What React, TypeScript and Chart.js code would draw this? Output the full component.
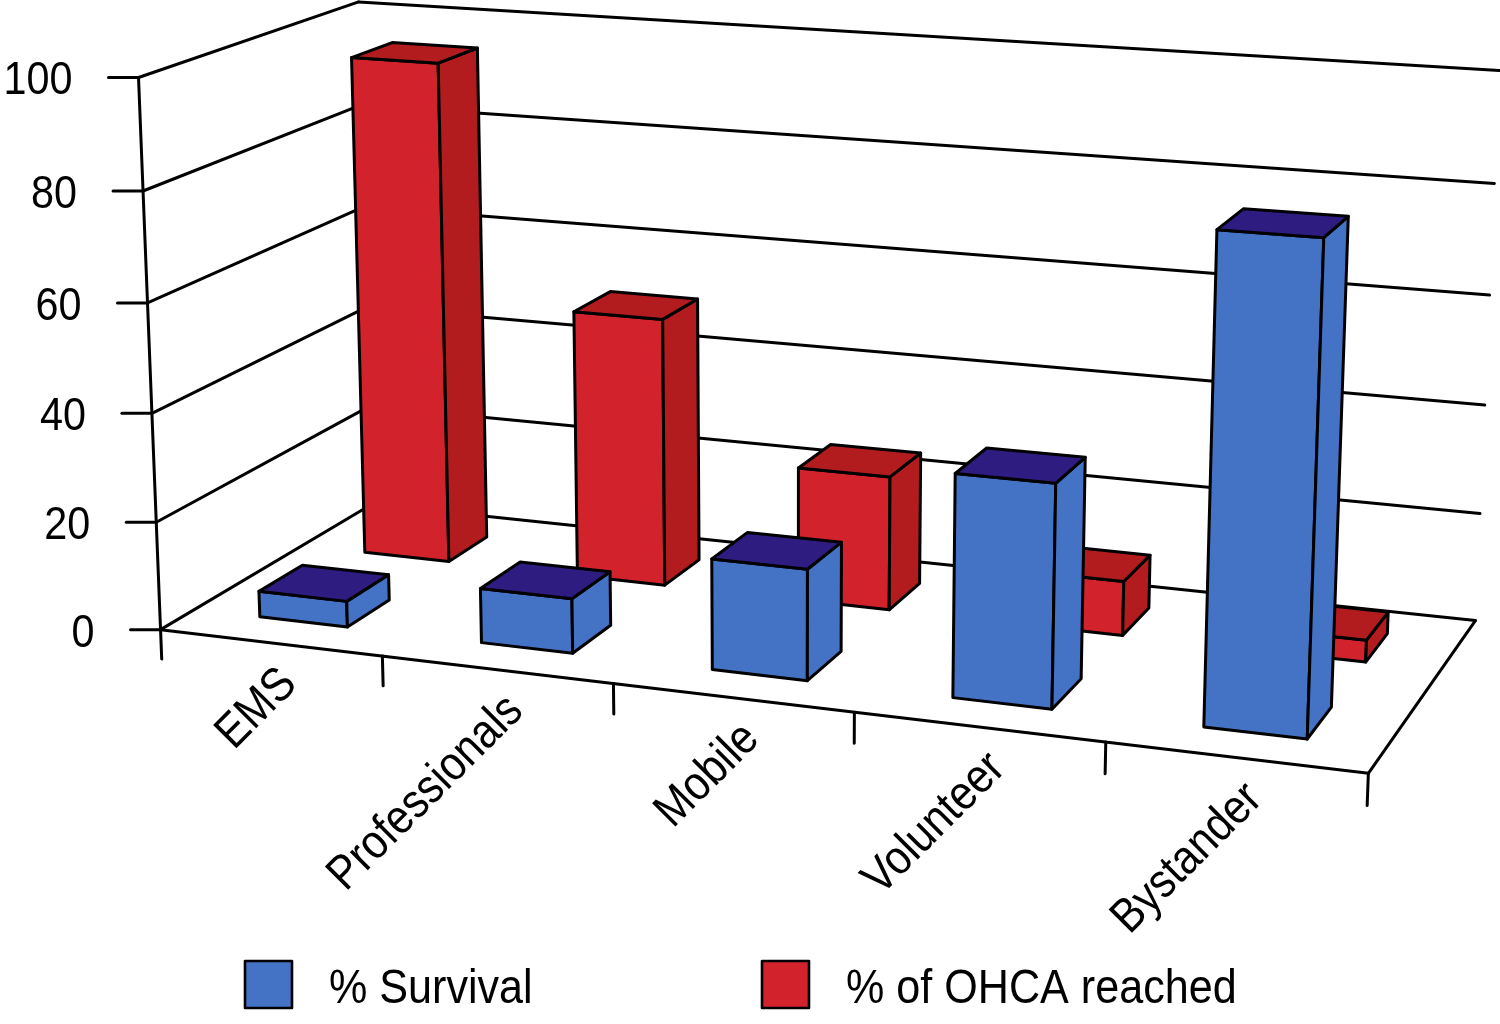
import React, { useEffect, useRef } from "react";
import { Chart, registerables } from "chart.js";

Chart.register(...registerables);

const categories = ["EMS", "Professionals", "Mobile", "Volunteer", "Bystander"];
const survival = [4.8, 10, 20, 39.5, 84.5];
const reached = [95, 50.5, 25, 10, 4];
const yTicks = [0, 20, 40, 60, 80, 100];
const seriesLabels = ["% Survival", "% of OHCA reached"];

// face colours per series: front, right side, top
const BLUE = { front: "#4472C4", side: "#4472C4", top: "#2E1C80" };
const RED = { front: "#D2232C", side: "#B21C1F", top: "#B21C1F" };

// where the corners of the plot box land on the page: [X, Y, Z, px, py]
// X = along categories, Y = height (0..1), Z = depth (0 front, 1 back wall)
const FRAME = [
  [0, 0, 0, 162, 628],
  [0, 0.2, 0, 157, 521],
  [0, 0.4, 0, 152, 413],
  [0, 0.6, 0, 147, 303],
  [0, 0.8, 0, 143, 191],
  [0, 1, 0, 137, 78],
  [0.2, 0, 0, 383, 655],
  [0.4, 0, 0, 613, 683],
  [0.6, 0, 0, 855, 713],
  [0.8, 0, 0, 1105, 744],
  [1, 0, 0, 1368, 775],
  [0, 1, 1, 360, 1],
  [0, 0, 1, 370, 508],
  [1, 0, 1, 1477, 618],
  [1, 0.2, 1, 1480, 512],
  [1, 0.4, 1, 1483, 405],
  [1, 0.6, 1, 1489, 295],
  [1, 0.8, 1, 1495, 183],
  [1, 1, 1, 1500, 72],
];

const FONT = '"Liberation Sans", Arial, Helvetica, sans-serif';

// least-squares camera matrix (DLT, p34 = 1) in normalised image coords
function solveCamera(refs: number[][]) {
  const n = 11;
  const M = Array.from({ length: n }, () => new Array(n + 1).fill(0));
  const add = (r: number[], b: number) => {
    for (let i = 0; i < n; i++) {
      for (let j = 0; j < n; j++) M[i][j] += r[i] * r[j];
      M[i][n] += r[i] * b;
    }
  };
  for (const [X, Y, Z, u0, v0] of refs) {
    const u = (u0 - 750) / 750;
    const v = (v0 - 500) / 500;
    add([X, Y, Z, 1, 0, 0, 0, 0, -u * X, -u * Y, -u * Z], u);
    add([0, 0, 0, 0, X, Y, Z, 1, -v * X, -v * Y, -v * Z], v);
  }
  for (let c = 0; c < n; c++) {
    let p = c;
    for (let r = c + 1; r < n; r++) if (Math.abs(M[r][c]) > Math.abs(M[p][c])) p = r;
    [M[c], M[p]] = [M[p], M[c]];
    for (let r = 0; r < n; r++) {
      if (r === c) continue;
      const f = M[r][c] / M[c][c];
      for (let k = c; k <= n; k++) M[r][k] -= f * M[c][k];
    }
  }
  return M.map((row, i) => row[n] / row[i]);
}

const CAM = solveCamera(FRAME);

function P(X: number, Y: number, Z: number) {
  const p = CAM;
  const w = p[8] * X + p[9] * Y + p[10] * Z + 1;
  return {
    x: ((p[0] * X + p[1] * Y + p[2] * Z + p[3]) / w) * 750 + 750,
    y: ((p[4] * X + p[5] * Y + p[6] * Z + p[7]) / w) * 500 + 500,
  };
}

type Pt = { x: number; y: number };

function line(ctx: CanvasRenderingContext2D, a: Pt, b: Pt) {
  ctx.beginPath();
  ctx.moveTo(a.x, a.y);
  ctx.lineTo(b.x, b.y);
  ctx.stroke();
}

function poly(ctx: CanvasRenderingContext2D, pts: Pt[], fill: string) {
  ctx.beginPath();
  pts.forEach((p, i) => (i ? ctx.lineTo(p.x, p.y) : ctx.moveTo(p.x, p.y)));
  ctx.closePath();
  ctx.fillStyle = fill;
  ctx.fill();
  ctx.stroke();
}

function narrowText(
  ctx: CanvasRenderingContext2D,
  text: string,
  x: number,
  y: number,
  size: number,
  align: CanvasTextAlign,
  baseline: CanvasTextBaseline,
  rot = 0
) {
  ctx.save();
  ctx.translate(x, y);
  ctx.rotate(rot);
  ctx.scale(0.88, 1);
  ctx.font = `${size}px ${FONT}`;
  ctx.textAlign = align;
  ctx.textBaseline = baseline;
  ctx.fillStyle = "#000";
  ctx.fillText(text, 0, 0);
  ctx.restore();
}

const perspective3d = {
  id: "perspective3d",
  beforeDatasetsDraw(chart: any) {
    const ctx: CanvasRenderingContext2D = chart.ctx;
    const area = chart.chartArea;
    const yScale = chart.scales.y;
    const xScale = chart.scales.x;
    const normY = (py: number) => (area.bottom - py) / (area.bottom - area.top);
    const normX = (px: number) => (px - area.left) / (area.right - area.left);

    ctx.save();
    ctx.strokeStyle = "#000";
    ctx.lineWidth = 3;
    ctx.lineJoin = "round";
    ctx.lineCap = "round";

    // walls: left wall + back wall gridlines, front-left edge
    yTicks.forEach((t) => {
      const h = normY(yScale.getPixelForValue(t));
      const a = P(0, h, 0);
      line(ctx, a, P(0, h, 1));
      line(ctx, P(0, h, 1), P(1, h, 1));
      line(ctx, { x: a.x - 30, y: a.y }, a);
      narrowText(ctx, String(t), a.x - 66, a.y + 17, 47, "right", "alphabetic");
    });
    line(ctx, P(0, 0, 0), P(0, 1, 0));

    // bars: back row (reached) first, then front row (survival)
    const rows = [
      { ds: 1, z0: 0.65, z1: 0.85, c: RED },
      { ds: 0, z0: 0.15, z1: 0.35, c: BLUE },
    ];
    rows.forEach(({ ds, z0, z1, c }) => {
      const meta = chart.getDatasetMeta(ds);
      meta.data.forEach((bar: any) => {
        const { x, y, base, width } = bar.getProps(["x", "y", "base", "width"], true);
        const x0 = normX(x - width / 2);
        const x1 = normX(x + width / 2);
        const b = normY(base);
        const h = normY(y);
        poly(ctx, [P(x0, b, z0), P(x1, b, z0), P(x1, h, z0), P(x0, h, z0)], c.front);
        poly(ctx, [P(x1, b, z0), P(x1, b, z1), P(x1, h, z1), P(x1, h, z0)], c.side);
        poly(ctx, [P(x0, h, z0), P(x1, h, z0), P(x1, h, z1), P(x0, h, z1)], c.top);
      });
    });

    // floor front and right edges, category ticks and labels
    line(ctx, P(0, 0, 0), P(1, 0, 0));
    line(ctx, P(1, 0, 0), P(1, 0, 1));
    const n = categories.length;
    for (let i = 0; i <= n; i++) {
      line(ctx, P(i / n, 0, 0), P(i / n, -0.055, 0));
    }
    categories.forEach((label, i) => {
      const c = P(normX(xScale.getPixelForValue(i)), 0, 0);
      narrowText(ctx, label, c.x + 2, c.y + 17, 48, "right", "top", -Math.PI / 4);
    });

    // legend
    const legend = [
      { x: 245, color: BLUE.front, text: seriesLabels[0] },
      { x: 762, color: RED.front, text: seriesLabels[1] },
    ];
    legend.forEach((l) => {
      ctx.fillStyle = l.color;
      ctx.fillRect(l.x, 961, 47, 47);
      ctx.lineWidth = 2.6;
      ctx.strokeRect(l.x, 961, 47, 47);
      narrowText(ctx, l.text, l.x + 84, 1003, 49, "left", "alphabetic");
    });

    ctx.restore();
    return false;
  },
};

export default function App() {
  const canvasRef = useRef<HTMLCanvasElement>(null);

  useEffect(() => {
    if (!canvasRef.current) return;
    const chart = new Chart(canvasRef.current, {
      type: "bar",
      data: {
        labels: categories,
        datasets: [
          {
            label: seriesLabels[0],
            data: survival,
            backgroundColor: BLUE.front,
            grouped: false,
            barPercentage: 0.4,
            categoryPercentage: 1,
          } as any,
          {
            label: seriesLabels[1],
            data: reached,
            backgroundColor: RED.front,
            grouped: false,
            barPercentage: 0.4,
            categoryPercentage: 1,
          } as any,
        ],
      },
      options: {
        animation: false,
        responsive: false,
        devicePixelRatio: 1,
        layout: { padding: 0 },
        scales: {
          x: { display: false },
          y: { display: false, min: 0, max: 100, ticks: { stepSize: 20 } },
        },
        plugins: { legend: { display: false }, tooltip: { enabled: false } },
      },
      plugins: [perspective3d],
    });
    return () => chart.destroy();
  }, []);

  return (
    <div style={{ position: "absolute", left: 0, top: 0, width: 1500, height: 1024, background: "#fff" }}>
      <canvas ref={canvasRef} width={1500} height={1024} />
    </div>
  );
}
